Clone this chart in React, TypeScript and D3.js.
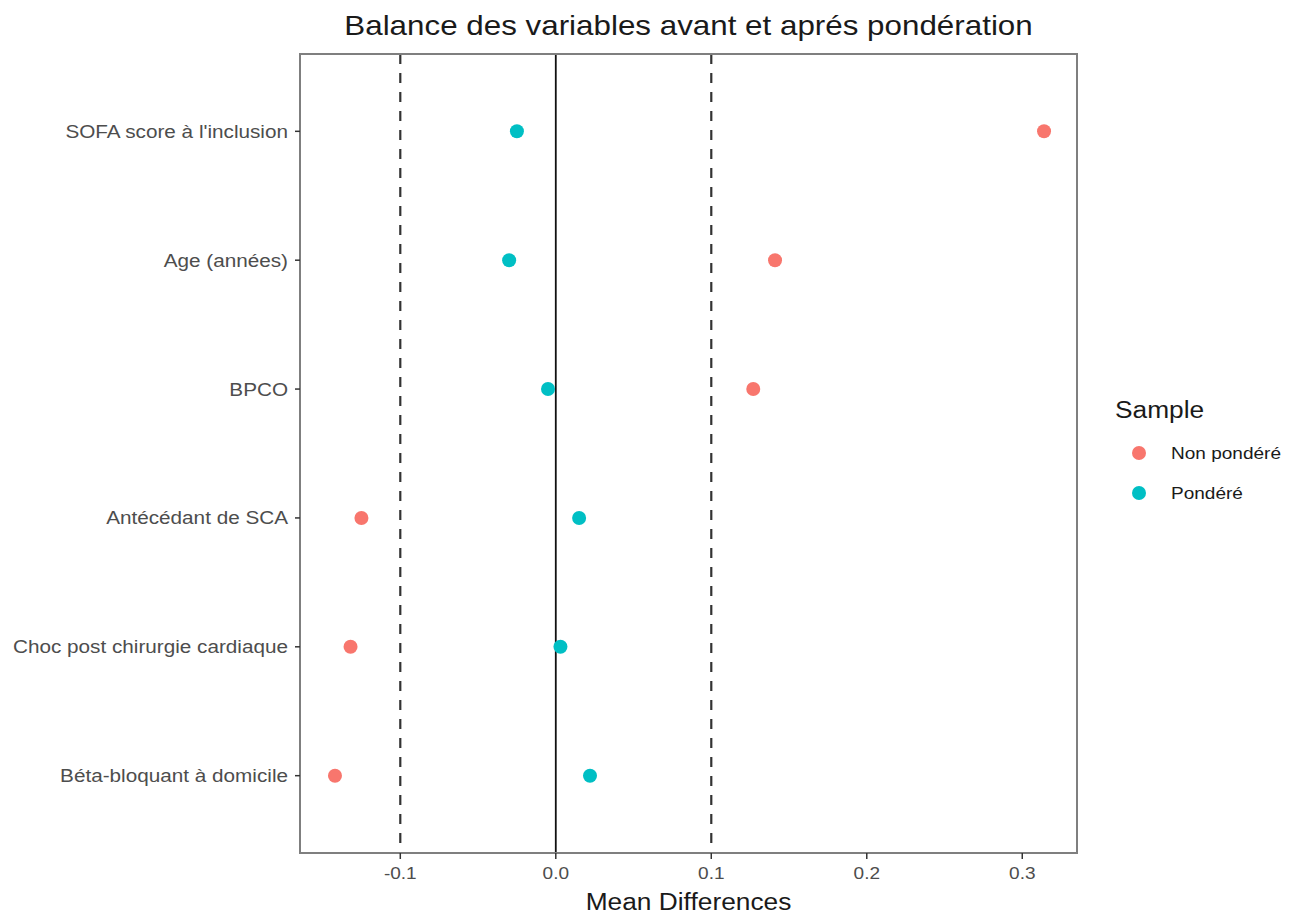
import React from "react";
import * as d3 from "d3";

const categories = [
  "SOFA score à l'inclusion",
  "Age (années)",
  "BPCO",
  "Antécédant de SCA",
  "Choc post chirurgie cardiaque",
  "Béta-bloquant à domicile",
];
const nonPondere = [0.314, 0.141, 0.127, -0.125, -0.132, -0.142];
const pondere = [-0.025, -0.03, -0.005, 0.015, 0.003, 0.022];
const xTicks = [-0.1, 0.0, 0.1, 0.2, 0.3];
const thresholds = [-0.1, 0.1];
const seriesNames = ["Non pondéré", "Pondéré"];
const seriesColors = ["#F8766D", "#00BFC4"];

const W = 1309;
const H = 917;
const panel = { left: 300, right: 1077, top: 54, bottom: 853 };
const FONT = "'Liberation Sans', Arial, Helvetica, sans-serif";
const SX = 1.12;

function T({
  x,
  y,
  anchor = "start",
  size,
  fill = "#1a1a1a",
  dy,
  children,
}: {
  x: number;
  y: number;
  anchor?: string;
  size: number;
  fill?: string;
  dy?: string;
  children: React.ReactNode;
}) {
  return (
    <text
      transform={`translate(${x},${y}) scale(${SX},1)`}
      textAnchor={anchor}
      fontSize={size}
      fill={fill}
      dy={dy}
    >
      {children}
    </text>
  );
}

export default function App() {
  const x = d3
    .scaleLinear()
    .domain([-0.1645, 0.3352])
    .range([panel.left, panel.right]);
  const n = categories.length;
  const y = d3
    .scaleLinear()
    .domain([-0.6, n - 1 + 0.6])
    .range([panel.top, panel.bottom]);
  const series = [nonPondere, pondere];
  const fmt = (t: number) => d3.format(".1f")(t).replace("\u2212", "-");

  return (
    <svg
      width={W}
      height={H}
      style={{ position: "absolute", left: 0, top: 0, background: "#fff" }}
      fontFamily={FONT}
    >
      <rect x={0} y={0} width={W} height={H} fill="#fff" />
      <T x={(panel.left + panel.right) / 2} y={35} anchor="middle" size={28}>
        Balance des variables avant et aprés pondération
      </T>
      {thresholds.map((t) => (
        <line
          key={t}
          x1={x(t)}
          x2={x(t)}
          y1={panel.top}
          y2={panel.bottom}
          stroke="#333"
          strokeWidth={2.2}
          strokeDasharray="10,9"
        />
      ))}
      <line
        x1={x(0)}
        x2={x(0)}
        y1={panel.top}
        y2={panel.bottom}
        stroke="#111"
        strokeWidth={1.8}
      />
      {series.map((vals, si) =>
        vals.map((v, i) => (
          <circle
            key={`${si}-${i}`}
            cx={x(v)}
            cy={y(i)}
            r={7}
            fill={seriesColors[si]}
          />
        ))
      )}
      <rect
        x={panel.left}
        y={panel.top}
        width={panel.right - panel.left}
        height={panel.bottom - panel.top}
        fill="none"
        stroke="#7f7f7f"
        strokeWidth={2}
      />
      {categories.map((c, i) => (
        <g key={c}>
          <line
            x1={panel.left - 5}
            x2={panel.left}
            y1={y(i)}
            y2={y(i)}
            stroke="#333"
            strokeWidth={1.5}
          />
          <T x={panel.left - 12} y={y(i)} dy="0.35em" anchor="end" size={18.5} fill="#4d4d4d">
            {c}
          </T>
        </g>
      ))}
      {xTicks.map((t) => (
        <g key={t}>
          <line
            x1={x(t)}
            x2={x(t)}
            y1={panel.bottom}
            y2={panel.bottom + 6}
            stroke="#333"
            strokeWidth={1.5}
          />
          <T x={x(t)} y={panel.bottom + 26} anchor="middle" size={17} fill="#4d4d4d">
            {fmt(t)}
          </T>
        </g>
      ))}
      <T x={(panel.left + panel.right) / 2} y={910} anchor="middle" size={23.5}>
        Mean Differences
      </T>
      <T x={1115} y={418} size={23.5}>
        Sample
      </T>
      {seriesNames.map((s, i) => (
        <g key={s}>
          <circle cx={1139} cy={453 + i * 40} r={7} fill={seriesColors[i]} />
          <T x={1171} y={453 + i * 40} dy="0.35em" size={17}>
            {s}
          </T>
        </g>
      ))}
    </svg>
  );
}
